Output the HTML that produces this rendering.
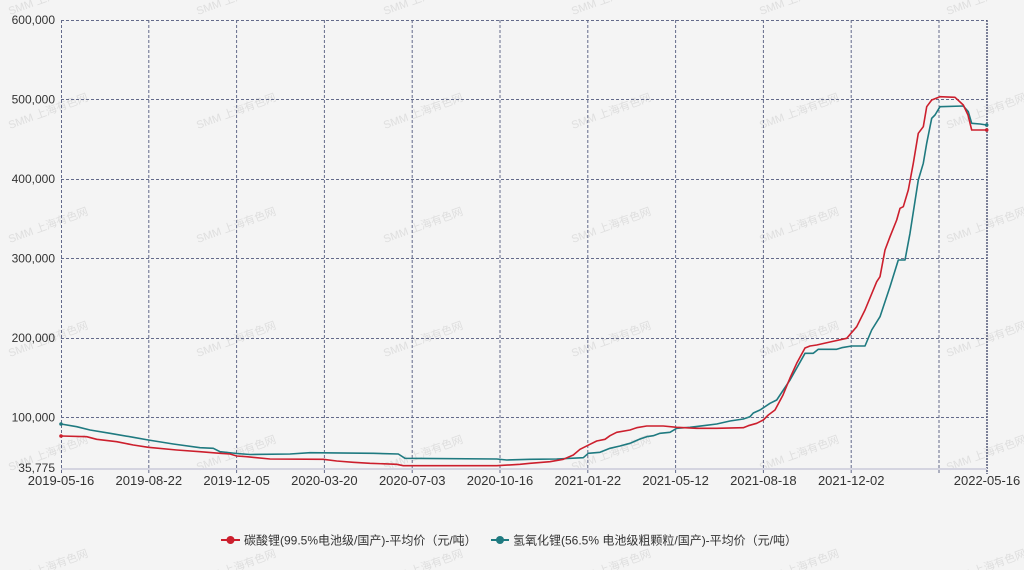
<!DOCTYPE html>
<html>
<head>
<meta charset="utf-8">
<style>
  html,body{margin:0;padding:0;background:#f4f4f4;}
  svg{display:block;}
  text{font-family:"Liberation Sans","Noto Sans CJK SC",sans-serif;}
</style>
</head>
<body>
<svg width="1024" height="570" viewBox="0 0 1024 570" xmlns="http://www.w3.org/2000/svg">
  <rect x="0" y="0" width="1024" height="570" fill="#f4f4f4"/>

  <!-- watermarks -->
  <g fill="#dedede" font-size="11">
    <text transform="translate(10,15) rotate(-20)">SMM 上海有色网</text>
    <text transform="translate(198,15) rotate(-20)">SMM 上海有色网</text>
    <text transform="translate(385,15) rotate(-20)">SMM 上海有色网</text>
    <text transform="translate(573,15) rotate(-20)">SMM 上海有色网</text>
    <text transform="translate(761,15) rotate(-20)">SMM 上海有色网</text>
    <text transform="translate(948,15) rotate(-20)">SMM 上海有色网</text>

    <text transform="translate(10,129) rotate(-20)">SMM 上海有色网</text>
    <text transform="translate(198,129) rotate(-20)">SMM 上海有色网</text>
    <text transform="translate(385,129) rotate(-20)">SMM 上海有色网</text>
    <text transform="translate(573,129) rotate(-20)">SMM 上海有色网</text>
    <text transform="translate(761,129) rotate(-20)">SMM 上海有色网</text>
    <text transform="translate(948,129) rotate(-20)">SMM 上海有色网</text>

    <text transform="translate(10,243) rotate(-20)">SMM 上海有色网</text>
    <text transform="translate(198,243) rotate(-20)">SMM 上海有色网</text>
    <text transform="translate(385,243) rotate(-20)">SMM 上海有色网</text>
    <text transform="translate(573,243) rotate(-20)">SMM 上海有色网</text>
    <text transform="translate(761,243) rotate(-20)">SMM 上海有色网</text>
    <text transform="translate(948,243) rotate(-20)">SMM 上海有色网</text>

    <text transform="translate(10,357) rotate(-20)">SMM 上海有色网</text>
    <text transform="translate(198,357) rotate(-20)">SMM 上海有色网</text>
    <text transform="translate(385,357) rotate(-20)">SMM 上海有色网</text>
    <text transform="translate(573,357) rotate(-20)">SMM 上海有色网</text>
    <text transform="translate(761,357) rotate(-20)">SMM 上海有色网</text>
    <text transform="translate(948,357) rotate(-20)">SMM 上海有色网</text>

    <text transform="translate(10,471) rotate(-20)">SMM 上海有色网</text>
    <text transform="translate(198,471) rotate(-20)">SMM 上海有色网</text>
    <text transform="translate(385,471) rotate(-20)">SMM 上海有色网</text>
    <text transform="translate(573,471) rotate(-20)">SMM 上海有色网</text>
    <text transform="translate(761,471) rotate(-20)">SMM 上海有色网</text>
    <text transform="translate(948,471) rotate(-20)">SMM 上海有色网</text>

    <text transform="translate(10,585) rotate(-20)">SMM 上海有色网</text>
    <text transform="translate(198,585) rotate(-20)">SMM 上海有色网</text>
    <text transform="translate(385,585) rotate(-20)">SMM 上海有色网</text>
    <text transform="translate(573,585) rotate(-20)">SMM 上海有色网</text>
    <text transform="translate(761,585) rotate(-20)">SMM 上海有色网</text>
    <text transform="translate(948,585) rotate(-20)">SMM 上海有色网</text>
  </g>

  <!-- horizontal gridlines -->
  <g stroke="#636a8a" stroke-width="1" stroke-dasharray="3,2" fill="none">
    <line x1="61" y1="20.5" x2="987" y2="20.5"/>
    <line x1="61" y1="99.5" x2="987" y2="99.5"/>
    <line x1="61" y1="179.5" x2="987" y2="179.5"/>
    <line x1="61" y1="258.5" x2="987" y2="258.5"/>
    <line x1="61" y1="338.5" x2="987" y2="338.5"/>
    <line x1="61" y1="417.5" x2="987" y2="417.5"/>
  </g>
  <!-- vertical gridlines -->
  <g stroke="#636a8a" stroke-width="1" stroke-dasharray="3,2" fill="none">
    <line x1="61.5" y1="20" x2="61.5" y2="474"/>
    <line x1="148.8" y1="20" x2="148.8" y2="474"/>
    <line x1="236.6" y1="20" x2="236.6" y2="474"/>
    <line x1="324.4" y1="20" x2="324.4" y2="474"/>
    <line x1="412.2" y1="20" x2="412.2" y2="474"/>
    <line x1="500" y1="20" x2="500" y2="474"/>
    <line x1="587.8" y1="20" x2="587.8" y2="474"/>
    <line x1="675.6" y1="20" x2="675.6" y2="474"/>
    <line x1="763.4" y1="20" x2="763.4" y2="474"/>
    <line x1="851.2" y1="20" x2="851.2" y2="474"/>
    <line x1="939" y1="20" x2="939" y2="474"/>
  </g>
  <line x1="987" y1="20" x2="987" y2="474" stroke="#3c4366" stroke-width="1.3" stroke-dasharray="2,1"/>

  <!-- x axis line -->
  <line x1="61" y1="469" x2="987" y2="469" stroke="#d4d4e0" stroke-width="2"/>

  <!-- y labels -->
  <g font-size="12" fill="#333" text-anchor="end">
    <text x="55" y="24">600,000</text>
    <text x="55" y="103.5">500,000</text>
    <text x="55" y="183">400,000</text>
    <text x="55" y="262.5">300,000</text>
    <text x="55" y="342">200,000</text>
    <text x="55" y="421.5">100,000</text>
    <text x="55" y="472">35,775</text>
  </g>

  <!-- x labels -->
  <g font-size="13" fill="#333" text-anchor="middle">
    <text x="61" y="485">2019-05-16</text>
    <text x="148.8" y="485">2019-08-22</text>
    <text x="236.6" y="485">2019-12-05</text>
    <text x="324.4" y="485">2020-03-20</text>
    <text x="412.2" y="485">2020-07-03</text>
    <text x="500" y="485">2020-10-16</text>
    <text x="587.8" y="485">2021-01-22</text>
    <text x="675.6" y="485">2021-05-12</text>
    <text x="763.4" y="485">2021-08-18</text>
    <text x="851.2" y="485">2021-12-02</text>
    <text x="987" y="485">2022-05-16</text>
  </g>

  <!-- teal series -->
  <polyline fill="none" stroke="#1f7a80" stroke-width="1.6" stroke-linejoin="round"
    points="61,424 76.7,426.7 90,430 110,433.3 133.3,437.3 148.3,440 173.3,444 200,447.7 213.3,448.3 220,451.7 236.7,453.5 250,454.5 290,454 310,452.7 373.3,453.3 398.3,454 405,458.3 496.7,459 506.7,460 530,459.3 556.7,459 583.3,457.7 588.3,453.3 600,452.3 610,448.3 620,446 630,443.3 640,439 646.7,436.7 653.3,435.7 660,433.3 670,432.3 676.7,428.3 690,427.3 703.3,425.7 716.7,424 730,421 743.3,419 750,416.7 753.3,413 760,410 770,403.3 776.7,400 790,380 805,353.3 813.3,353.3 818.3,349.3 836.7,349.3 841.7,347.7 851.7,346 865,346 871.7,330 880,316.7 890,286.7 898.3,260 905,260 910,233.3 918.3,180 923.3,163.3 926.7,143.3 931.7,118.3 935,115 940,106.7 963.3,106 968.3,111.7 971.7,123.3 980,124 986.7,125"/>
  <!-- red series -->
  <polyline fill="none" stroke="#cc1f2d" stroke-width="1.6" stroke-linejoin="round"
    points="61,436 86.7,436.7 96.7,439.3 116.7,441.7 133.3,445 148.3,447.3 176.7,450 200,451.7 220,453.3 230,454 236.7,456 246.7,456.7 270,459 323.3,459.3 336.7,461 353.3,462.3 370,463.3 396.7,464.3 403.3,465.7 496.7,465.7 520,464.3 530,463.3 550,461.7 563.3,459.3 573.3,455 580,449.3 590,444.3 596.7,441 605,439.3 610,435.7 616.7,432.3 630,430 636.7,427.7 646.7,426 663.3,426 676.7,427.3 696.7,428.3 716.7,428.3 743.3,427.7 748.3,425.7 756.7,423.3 763.3,420 768.3,415 775,410 783,395 790,378 796.7,363.3 805,348 810,346 816.7,345 830,342 846.7,338.3 856.7,326.7 865,310 876.7,281.7 880,276.7 885,250 890,236.7 896.7,220 900,208.3 903.3,206.7 908.3,190 913.3,163.3 918.3,133.3 923.3,126.7 926.7,106.7 931.7,100 940,96.7 955,97.3 963.3,105 968,115 971.7,130 986.7,130"/>

  <!-- end markers -->
  <circle cx="61" cy="424" r="1.8" fill="#1f7a80"/>
  <circle cx="61" cy="436" r="1.8" fill="#cc1f2d"/>
  <circle cx="986.7" cy="125" r="1.8" fill="#1f7a80"/>
  <circle cx="986.7" cy="130" r="1.8" fill="#cc1f2d"/>

  <!-- legend -->
  <line x1="221" y1="540" x2="240" y2="540" stroke="#cc1f2d" stroke-width="2"/>
  <circle cx="230.5" cy="540" r="4" fill="#cc1f2d"/>
  <text x="244" y="544.5" font-size="12" fill="#333">碳酸锂(99.5%电池级/国产)-平均价（元/吨）</text>

  <line x1="491" y1="540" x2="509" y2="540" stroke="#1f7a80" stroke-width="2"/>
  <circle cx="500" cy="540" r="4" fill="#1f7a80"/>
  <text x="513" y="544.5" font-size="12" fill="#333">氢氧化锂(56.5% 电池级粗颗粒/国产)-平均价（元/吨）</text>
</svg>
</body>
</html>
